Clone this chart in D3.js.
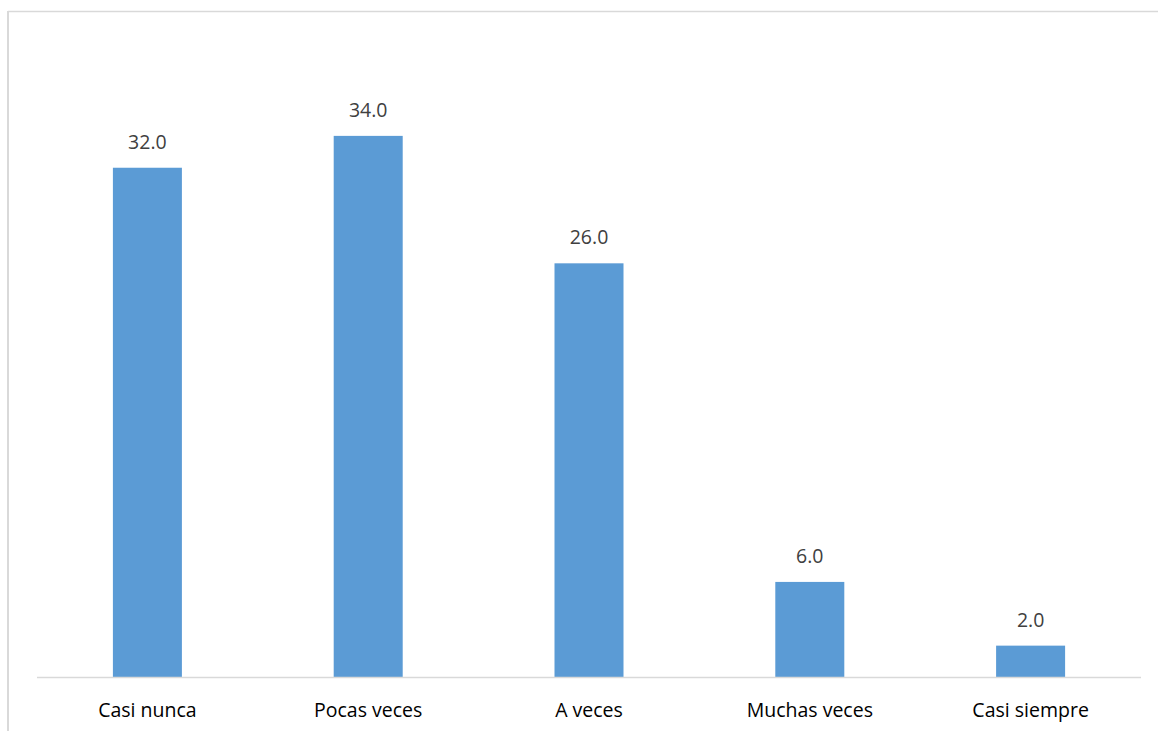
<!DOCTYPE html>
<html><head><meta charset="utf-8">
<script src="https://cdn.jsdelivr.net/npm/d3@7"></script>
<style>body{margin:0;background:#fff}svg{display:block}</style>
</head><body>
<script>
const categories = ["Casi nunca","Pocas veces","A veces","Muchas veces","Casi siempre"];
const values = [32.0, 34.0, 26.0, 6.0, 2.0];
const yDomain = [0, 40];

const W = 1158, H = 731;
const svg = d3.select("body").append("svg").attr("width", W).attr("height", H);

// chart border (top and left visible)
svg.append("line").attr("x1",8).attr("x2",W).attr("y1",11.5).attr("y2",11.5).attr("stroke","#d9d9d9").attr("stroke-width",1.5);
svg.append("line").attr("x1",8).attr("x2",8).attr("y1",11).attr("y2",H).attr("stroke","#d9d9d9").attr("stroke-width",2);

const left = 37, right = 1141, base = 677.5;
const x = d3.scaleBand().domain(categories).range([left, right]).paddingInner(0.6875).paddingOuter(0.34375);
const y = d3.scaleLinear().domain(yDomain).range([base, base - 15.93*40]);

svg.selectAll("rect.bar").data(values).join("rect").attr("class","bar")
  .attr("x",(d,i)=>x(categories[i])).attr("width",x.bandwidth())
  .attr("y",d=>y(d)).attr("height",d=>y(0)-y(d)).attr("fill","#5b9bd5");

svg.append("line").attr("x1",left).attr("x2",right).attr("y1",base).attr("y2",base).attr("stroke","#d9d9d9").attr("stroke-width",1.5);

svg.selectAll("text.val").data(values).join("text").attr("class","val")
  .attr("x",(d,i)=>x(categories[i])+x.bandwidth()/2).attr("y",d=>y(d)-19)
  .attr("text-anchor","middle").attr("font-family","Open Sans, sans-serif").attr("font-size",19.5)
  .attr("fill","#404040").text(d=>d.toFixed(1));

const xAxis = svg.append("g").attr("transform",`translate(0,${base})`).call(d3.axisBottom(x).tickSize(0).tickPadding(0));
xAxis.select(".domain").remove();
xAxis.selectAll("text").attr("y",39).attr("dy",0).attr("font-family","Open Sans, sans-serif").attr("font-size",19.5).attr("fill","#000");
</script>
</body></html>
